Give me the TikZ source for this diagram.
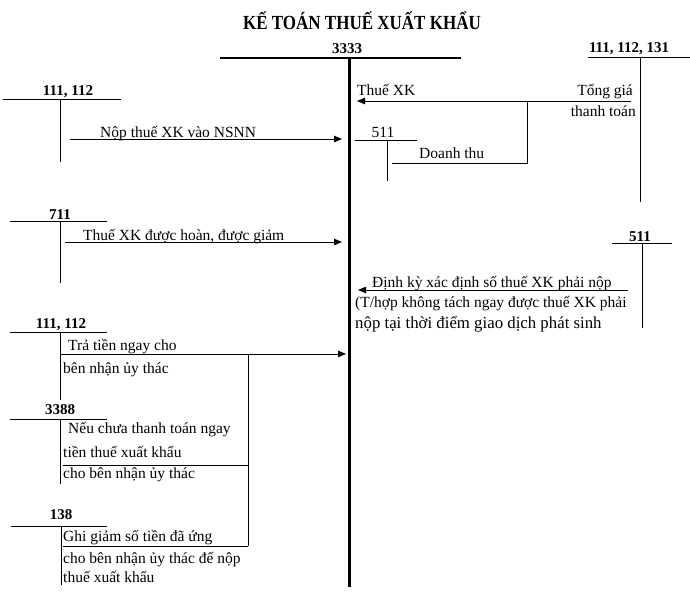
\documentclass[tikz,border=0pt]{standalone}
\usepackage{fontspec}
\setmainfont{Liberation Serif}
\usetikzlibrary{arrows.meta}
\begin{document}
\begin{tikzpicture}[x=1pt,y=-1pt,
  txt/.style={font=\fontsize{15.5}{21}\selectfont, inner sep=0pt},
  bigtxt/.style={font=\fontsize{16.8}{21}\selectfont, inner sep=0pt},
  acct/.style={font=\fontsize{15}{18}\selectfont\bfseries, inner sep=0pt},
  tline/.style={line width=1pt},
  arr/.style={line width=1pt,-{Triangle[length=8pt,width=6.5pt]}}]
\useasboundingbox (0,0) rectangle (690,600);
\fill[white] (0,0) rectangle (690,600);

% title
\node[font=\fontsize{20}{24}\selectfont\bfseries, inner sep=0pt, anchor=base] (title) at (362,29) {\scalebox{0.85}[1]{KẾ TOÁN THUẾ XUẤT KHẨU}};

% account 3333
\node[acct, anchor=base] (n3333) at (347,53) {3333};
\coordinate (c3333L) at (220,58);
\coordinate (c3333R) at (461,58);
\coordinate (c3333T) at (349,57);
\coordinate (c3333B) at (349,587);
\draw[line width=2pt] (c3333L) -- (c3333R);
\draw[line width=3pt] (c3333T) -- (c3333B);

% account 111, 112, 131 (top right)
\node[acct, anchor=base] (n111r) at (629,52) {111, 112, 131};
\coordinate (r1L) at (588,57);
\coordinate (r1R) at (690,57);
\coordinate (r1T) at (640,57);
\coordinate (r1B) at (640,202);
\draw[tline] (r1L) -- (r1R);
\draw[tline] (r1T) -- (r1B);

% account 111, 112 (top left)
\node[acct, anchor=base] (n111a) at (68,95) {111, 112};
\coordinate (l1L) at (3,99);
\coordinate (l1R) at (121,99);
\coordinate (l1T) at (60,99);
\coordinate (l1B) at (60,162);
\draw[tline] (l1L) -- (l1R);
\draw[tline] (l1T) -- (l1B);

% Nop thue XK vao NSNN
\coordinate (nopS) at (70,139);
\coordinate (nopE) at (342,139);
\draw[arr] (nopS) -- (nopE);
\node[txt, anchor=base west] (tnop) at (100,137.5) {Nộp thuế XK vào NSNN};

% Thue XK / Tong gia thanh toan
\coordinate (thS) at (631,101);
\coordinate (thE) at (357,101);
\draw[arr] (thS) -- (thE);
\node[txt, anchor=base west] (tthue) at (357,95) {Thuế XK};
\node[txt, anchor=base east] (ttong) at (633,95) {Tổng giá};
\node[txt, anchor=base east] (tthanh) at (636,116) {thanh toán};
\coordinate (dtA) at (527,101);
\coordinate (dtB) at (392,163);
\draw[tline] (dtB) -| (dtA);
\node[txt, anchor=base west] (tdoanh) at (419,158) {Doanh thu};

% small 511
\node[txt, anchor=base] (n511a) at (383,137) {511};
\coordinate (s5L) at (355,140);
\coordinate (s5R) at (417,140);
\coordinate (s5T) at (387,140);
\coordinate (s5B) at (387,181);
\draw[tline] (s5L) -- (s5R);
\draw[tline] (s5T) -- (s5B);

% account 711
\node[acct, anchor=base] (n711) at (60,219) {711};
\coordinate (a7L) at (10,221);
\coordinate (a7R) at (107,221);
\coordinate (a7T) at (60,221);
\coordinate (a7B) at (60,283);
\draw[tline] (a7L) -- (a7R);
\draw[tline] (a7T) -- (a7B);
\coordinate (hoanS) at (65,242);
\coordinate (hoanE) at (342,242);
\draw[arr] (hoanS) -- (hoanE);
\node[txt, anchor=base west] (thoan) at (83,240) {Thuế XK được hoàn, được giảm};

% account 511 (right)
\node[acct, anchor=base] (n511b) at (640,241) {511};
\coordinate (b5L) at (612,243);
\coordinate (b5R) at (672,243);
\coordinate (b5T) at (642,243);
\coordinate (b5B) at (642,328);
\draw[tline] (b5L) -- (b5R);
\draw[tline] (b5T) -- (b5B);
\coordinate (dkS) at (628,290);
\coordinate (dkE) at (358,290);
\draw[arr] (dkS) -- (dkE);
\node[txt, anchor=base west] (tdk) at (372,287.5) {Định kỳ xác định số thuế XK phải nộp};
\node[txt, anchor=base west] (tth) at (355,307) {(T/hợp không tách ngay được thuế XK phải};
\node[bigtxt, anchor=base west] (tnt) at (355,328) {nộp tại thời điểm giao dịch phát sinh};

% account 111, 112 (lower left)
\node[acct, anchor=base] (n111b) at (61,328) {111, 112};
\coordinate (c1L) at (10,332);
\coordinate (c1R) at (107,332);
\coordinate (c1T) at (60,332);
\coordinate (c1B) at (60,400);
\draw[tline] (c1L) -- (c1R);
\draw[tline] (c1T) -- (c1B);
\coordinate (trS) at (60,354);
\coordinate (trE) at (346,354);
\draw[arr] (trS) -- (trE);
\node[txt, anchor=base west] (ttra) at (68,350) {Trả tiền ngay cho};
\node[txt, anchor=base west] (tben) at (63,373) {bên nhận ủy thác};
\coordinate (vT) at (248,354);
\coordinate (vB) at (248,546);
\draw[tline] (vT) -- (vB);

% account 3388
\node[acct, anchor=base] (n3388) at (60,414) {3388};
\coordinate (d3L) at (10,419);
\coordinate (d3R) at (107,419);
\coordinate (d3T) at (60,419);
\coordinate (d3B) at (60,484);
\draw[tline] (d3L) -- (d3R);
\draw[tline] (d3T) -- (d3B);
\node[txt, anchor=base west] (tneu) at (68,433) {Nếu chưa thanh toán ngay};
\node[txt, anchor=base west] (ttien) at (63,457) {tiền thuế xuất khẩu};
\coordinate (h3S) at (63,465);
\coordinate (h3E) at (248,465);
\draw[tline] (h3S) -- (h3E);
\node[txt, anchor=base west] (tcho) at (63,478) {cho bên nhận ủy thác};

% account 138
\node[acct, anchor=base] (n138) at (61,519) {138};
\coordinate (e1L) at (11,526);
\coordinate (e1R) at (107,526);
\coordinate (e1T) at (61,526);
\coordinate (e1B) at (61,585);
\draw[tline] (e1L) -- (e1R);
\draw[tline] (e1T) -- (e1B);
\node[txt, anchor=base west] (tghi) at (63,541) {Ghi giảm số tiền đã ứng};
\coordinate (h4S) at (63,546);
\coordinate (h4E) at (248,546);
\draw[tline] (h4S) -- (h4E);
\node[txt, anchor=base west] (tcho2) at (63,563) {cho bên nhận ủy thác để nộp};
\node[txt, anchor=base west] (txk) at (63,582) {thuế xuất khẩu};
\end{tikzpicture}
\end{document}
